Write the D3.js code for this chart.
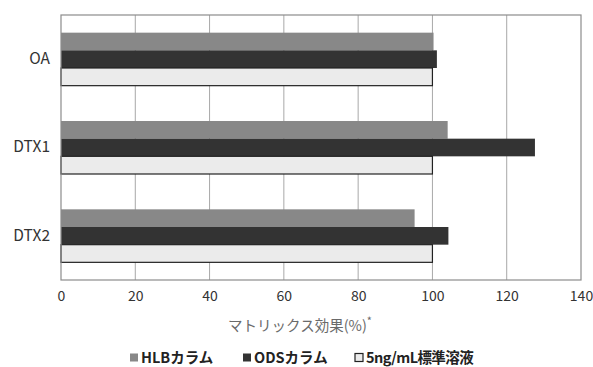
<!DOCTYPE html>
<html><head><meta charset="utf-8">
<script src="https://cdn.jsdelivr.net/npm/d3@7"></script>
<style>body{margin:0;background:#fff}svg{display:block}text{font-family:"Noto Sans CJK JP","Noto Sans",sans-serif}</style>
</head><body><svg id="c" width="593" height="367"></svg>
<script>
const categories = ["OA", "DTX1", "DTX2"];
const seriesNames = ["HLBカラム", "ODSカラム", "5ng/mL標準溶液"];
const hlbValues = [100.3, 104.1, 95.2];
const odsValues = [101.2, 127.6, 104.3];
const stdValues = [100, 100, 100];
const xTicks = [0, 20, 40, 60, 80, 100, 120, 140];
const xTitle = "マトリックス効果(%)";

const colors = ["#888888", "#333333", "#ebebeb"];
const series = [hlbValues, odsValues, stdValues];
const svg = d3.select("#c");
const m = {l: 61, r: 581, t: 15, b: 280};
const x = d3.scaleLinear().domain([0, 140]).range([m.l, m.r]);
const y = d3.scaleBand().domain(categories).range([m.t, m.b]).paddingInner(0).paddingOuter(0);
const inner = d3.scaleBand().domain(d3.range(3)).range([0, y.bandwidth()]).paddingOuter(1).paddingInner(0);

// grid
svg.append("g").selectAll("line").data(xTicks.slice(1, -1)).join("line")
  .attr("x1", d => x(d)).attr("x2", d => x(d)).attr("y1", m.t).attr("y2", m.b)
  .attr("stroke", "#a8a8a8").attr("stroke-width", 1);

// bars
categories.forEach((c, ci) => {
  series.forEach((s, si) => {
    svg.append("rect")
      .attr("x", x(0)).attr("y", y(c) + inner(si))
      .attr("width", x(s[ci]) - x(0)).attr("height", inner.bandwidth())
      .attr("fill", colors[si])
      .attr("stroke", si === 2 ? "#222" : "none").attr("stroke-width", si === 2 ? 1.2 : 0);
  });
});

// frame
svg.append("rect").attr("x", m.l).attr("y", m.t).attr("width", m.r - m.l).attr("height", m.b - m.t)
  .attr("fill", "none").attr("stroke", "#8c8c8c").attr("stroke-width", 1.2);

// x axis labels
const xa = d3.axisBottom(x).tickValues(xTicks).tickSize(0).tickPadding(11);
const gx = svg.append("g").attr("transform", `translate(0,${m.b})`).call(xa);
gx.select(".domain").remove();
gx.selectAll("text").attr("font-size", 14).attr("fill", "#333")
  .style("font-family", '"Noto Sans CJK JP", sans-serif');

// y axis labels
const ya = d3.axisLeft(y).tickSize(0).tickPadding(11);
const gy = svg.append("g").attr("transform", `translate(${m.l},0)`).call(ya);
gy.select(".domain").remove();
gy.selectAll("text").attr("font-size", 15.5).attr("fill", "#333")
  .style("font-family", '"Noto Sans CJK JP", sans-serif');

// x title
const t = svg.append("text").attr("x", 300).attr("y", 331).attr("text-anchor", "middle")
  .attr("font-size", 14.5).attr("fill", "#6a6a6a");
t.append("tspan").text(xTitle);
t.append("tspan").text("*").attr("font-size", 11).attr("dy", -6);

// legend
const legX = [130, 243, 355];
seriesNames.forEach((n, i) => {
  const g = svg.append("g").attr("transform", `translate(${legX[i]},357.5)`);
  g.append("rect").attr("x", 0).attr("y", -4).attr("width", 8).attr("height", 8)
    .attr("fill", colors[i]).attr("stroke", i === 2 ? "#222" : "none").attr("stroke-width", 1.2);
  g.append("text").attr("x", 11).attr("y", 5.5).attr("font-size", 14.5).attr("font-weight", "bold")
    .attr("fill", "#222").attr("letter-spacing", i === 2 ? -0.6 : 0).text(n);
});
</script></body></html>
